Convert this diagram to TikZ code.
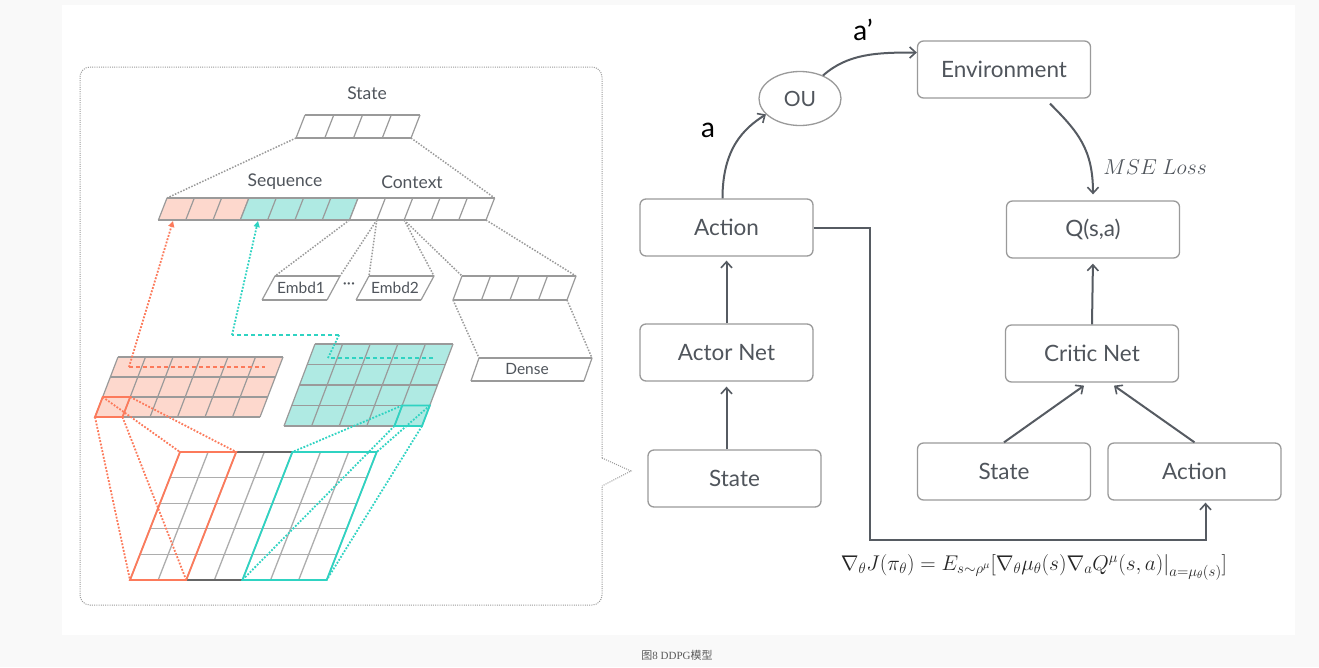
\RequirePackage{fix-cm}
\documentclass[tikz,border=0pt]{standalone}
\usepackage{fontspec}
\setmainfont{Lato}
\newfontfamily\cjk{Noto Sans CJK SC}
\newfontfamily\capserif{Liberation Serif}
\usetikzlibrary{arrows.meta,shapes.geometric,calc}
\definecolor{txt}{HTML}{50555C}
\definecolor{boxgray}{HTML}{9A9A9A}
\definecolor{conngray}{HTML}{565B62}
\definecolor{salmonfill}{HTML}{FDD8CD}
\definecolor{coral}{HTML}{FC7A5B}
\definecolor{tealfill}{HTML}{AFEAE3}
\definecolor{tealline}{HTML}{2FD3C2}
\definecolor{gridgray}{HTML}{9A9A9A}
\definecolor{lightgrid}{HTML}{ADADAD}
\definecolor{bgout}{HTML}{F9F9F9}
% x0, y0, cell w, cell h, ncols, nrows, skew, fill, line style
\newcommand{\mygridd}[9]{%
  \pgfmathsetmacro\sgW{#3*#5}%
  \pgfmathsetmacro\sgH{#4*#6}%
  \pgfmathsetmacro\sgS{#7*\sgH}%
  \path[fill=#8] (#1,#2) -- ++(\sgW,0) -- ++(-\sgS,\sgH) -- ++(-\sgW,0) -- cycle;
  \foreach \i in {0,...,#5}{\draw[#9] ({#1+\i*#3},#2) -- ++(-\sgS,\sgH);}
  \foreach \j in {0,...,#6}{\draw[#9] ({#1-#7*\j*#4},{#2+\j*#4}) -- ++(\sgW,0);}
}
\begin{document}
\begin{tikzpicture}[x=1pt,y=-1pt,
  box/.style={draw=boxgray, line width=1.3pt, rounded corners=6pt, minimum width=173pt,
    minimum height=57pt, fill=white, text=txt, font=\fontsize{22.5}{26}\selectfont, inner sep=0pt},
  conn/.style={draw=conngray, line width=2pt, -{Straight Barb[length=6pt,width=11pt,line width=1.6pt]}},
  barline/.style={draw=gridgray, line width=1.2pt},
  bigline/.style={draw=lightgrid, line width=1.3pt},
  gdot/.style={draw=gridgray, line width=1.5pt, dash pattern=on 1.5pt off 1.5pt},
  frame/.style={draw=gridgray, line width=1pt, dash pattern=on 1pt off 1.2pt},
  cdot/.style={draw=coral, line width=1.8pt, dash pattern=on 1.8pt off 1.6pt},
  tdot/.style={draw=tealline, line width=1.8pt, dash pattern=on 1.8pt off 1.6pt},
  cdash/.style={draw=coral, line width=1.8pt, dash pattern=on 4pt off 3pt},
  tdash/.style={draw=tealline, line width=1.8pt, dash pattern=on 4pt off 3pt},
  ltxt/.style={text=txt, font=\fontsize{17.5}{20}\selectfont, inner sep=0pt},
  stxt/.style={text=txt, font=\fontsize{15.5}{18}\selectfont, inner sep=0pt},
  tipc/.style={-{Triangle[length=6pt,width=6pt]}}
]
\useasboundingbox (0,0) rectangle (1319,667);
\fill[bgout] (0,0) rectangle (1319,667);
\fill[white] (62,5) rectangle (1295,635);

% ---------------- left panel ----------------
\draw[frame, rounded corners=10pt] (602,458) -- (602,67) -- (80,67) -- (80,605) -- (602,605) -- (602,486);
\draw[frame] (602,458) -- (631,471) -- (602,486);

\node[ltxt] (lstate) at (367,93) {State};
\node[ltxt] (lseq) at (285,182) {Sequence};
\node[ltxt] (lctx) at (412,182) {Context};

% state bar
\mygridd{305}{115}{28.75}{23}{4}{1}{0.39}{white}{barline}
% sequence/context bar
\mygridd{167}{198}{27.3}{22}{3}{1}{0.39}{salmonfill}{barline}
\mygridd{248.9}{198}{27.3}{22}{4}{1}{0.39}{tealfill}{barline}
\mygridd{358.1}{198}{27.3}{22}{5}{1}{0.39}{white}{barline}
% dotted from state bar to seq bar
\draw[gdot] (296,138) -- (167,198);
\draw[gdot] (411,138) -- (494.6,198);

% embeddings
\mygridd{275}{276}{65}{24}{1}{1}{0.54}{white}{barline}
\mygridd{369}{276}{65}{24}{1}{1}{0.54}{white}{barline}
\node[stxt] (e1) at (301,288) {Embd1};
\node[stxt] (e2) at (395,288) {Embd2};
\node[stxt] (edots) at (349,286) {···};
% dense bar and dense box
\mygridd{462}{276}{28.5}{24}{4}{1}{0.375}{white}{barline}
\mygridd{479}{358}{113}{23}{1}{1}{0.35}{white}{barline}
\node[stxt] (dense) at (527,369.5) {Dense};
\draw[gdot] (349.5,220) -- (275,276);
\draw[gdot] (376.8,220) -- (340,276);
\draw[gdot] (376.8,220) -- (369,276);
\draw[gdot] (404.1,220) -- (434,276);
\draw[gdot] (404.1,220) -- (462,276);
\draw[gdot] (486,220) -- (576,276);
\draw[gdot] (453,300) -- (479,358);
\draw[gdot] (567,300) -- (592,358);

% pink grid
\mygridd{118}{357}{27.5}{20}{6}{3}{0.383}{salmonfill}{barline}
% teal grid
\mygridd{315}{344}{27.6}{20.5}{5}{4}{0.378}{tealfill}{barline}
% big grid
\mygridd{180}{452}{28.1}{25.6}{7}{5}{0.39}{white}{bigline}
\draw[draw=black!60, line width=1.8pt] (236.2,452) -- (292.4,452);
\draw[draw=black!60, line width=1.8pt] (186.2,580) -- (242.4,580);
\draw[draw=coral, line width=1.8pt] (180,452) -- (236.2,452) -- (186.2,580) -- (130,580) -- cycle;
\draw[draw=tealline, line width=1.8pt] (292.4,452) -- (376.7,452) -- (326.7,580) -- (242.4,580) -- cycle;

% highlighted cells
\coordinate (pTL) at (102.7,397);
\coordinate (pTR) at (130.2,397);
\coordinate (pBR) at (122.5,417);
\coordinate (pBL) at (95,417);
\coordinate (tTL) at (402.2,405.5);
\coordinate (tTR) at (429.8,405.5);
\coordinate (tBR) at (422,426);
\coordinate (tBL) at (394.4,426);
\draw[draw=coral, line width=1.8pt] (pTL) -- (pTR) -- (pBR) -- (pBL) -- cycle;
\draw[draw=tealline, line width=1.8pt] (tTL) -- (tTR) -- (tBR) -- (tBL) -- cycle;

% projections
\draw[cdot] (pTL) -- (180,452);
\draw[cdot] (pTR) -- (236.2,452);
\draw[cdot] (pBR) -- (186.2,580);
\draw[cdot] (pBL) -- (130,580);
\draw[tdot] (tTL) -- (292.4,452);
\draw[tdot] (tTR) -- (376.7,452);
\draw[tdot] (tBR) -- (326.7,580);
\draw[tdot] (tBL) -- (242.4,580);

% arrows to sequence bar
\draw[cdash] (129,367) -- (265,367);
\draw[cdot, tipc] (129,367) -- (173,221);
\draw[tdash] (433,358) -- (328,358);
\draw[tdot] (328,358) -- (339,335);
\draw[tdash] (339,335) -- (232,335);
\draw[tdot, tipc] (232,335) -- (258,221);

% ---------------- right panel ----------------
\node[box] (act) at (726.5,227.5) {Action};
\node[box] (env) at (1004,69.5) {Environment};
\node[box] (q) at (1093,229.5) {Q(s,a)};
\node[box] (actor) at (726.5,352.5) {Actor Net};
\node[box] (critic) at (1092,353.5) {Critic Net};
\node[box] (s1) at (734.5,478.5) {State};
\node[box] (s2) at (1004,471.5) {State};
\node[box] (a2) at (1194.5,471.5) {Action};
\node[ellipse, draw=boxgray, line width=1.3pt, fill=white, text=txt, minimum width=82pt,
  minimum height=54pt, inner sep=0pt, font=\fontsize{21}{24}\selectfont] (ou) at (800,98.5) {OU};

\draw[conn, shorten >=4pt] (actor.north) -- (act.south);
\draw[conn, shorten >=5pt] (s1.north -| actor.north) -- (actor.south);
\draw[conn, shorten >=5pt] (critic.north) -- (q.south);
\draw[conn] (s2.north) -- ([xshift=-8pt,yshift=-3pt]critic.south);
\draw[conn] (a2.north) -- ([xshift=22pt,yshift=-3pt]critic.south);
\coordinate (fb) at (870,540);
\draw[conn] (act.east) -| (fb) -| ([xshift=11pt,yshift=-2pt]a2.south);

\draw[conn] ([xshift=-4pt]act.north) .. controls +(0,-50) and +(-22,14) .. (ou.205);
\draw[conn] (ou.45) .. controls +(25,-22) and +(-40,0) .. ([yshift=17pt]env.west);
\draw[conn] ([xshift=46pt,yshift=-5pt]env.south) .. controls +(28,28) and +(0,-45) .. ([yshift=6pt]q.north);

\node[text=black, font=\fontsize{28}{32}\selectfont, inner sep=0pt] (la) at (708,130) {a};
\node[text=black, font=\fontsize{28}{32}\selectfont, inner sep=0pt] (lap) at (863,30) {a’};
\node[text=txt, inner sep=0pt, font=\fontsize{21.5}{25}\selectfont] (mse) at (1155,167) {$MSE\ Loss$};
\node[text=black!85, inner sep=0pt, font=\fontsize{21.3}{25}\selectfont] (formula) at (1034,567)
  {$\nabla_\theta J(\pi_\theta) = E_{s\sim\rho^\mu}\big[\nabla_\theta\mu_\theta(s)\nabla_a Q^\mu(s,a)\big|_{a=\mu_\theta(s)}\big]$};

\node[text=black!65, inner sep=0pt, font=\fontsize{11}{13}\selectfont] (cap) at (677,655)
  {{\cjk 图}{\capserif 8 DDPG}{\cjk 模型}};
\end{tikzpicture}
\end{document}
